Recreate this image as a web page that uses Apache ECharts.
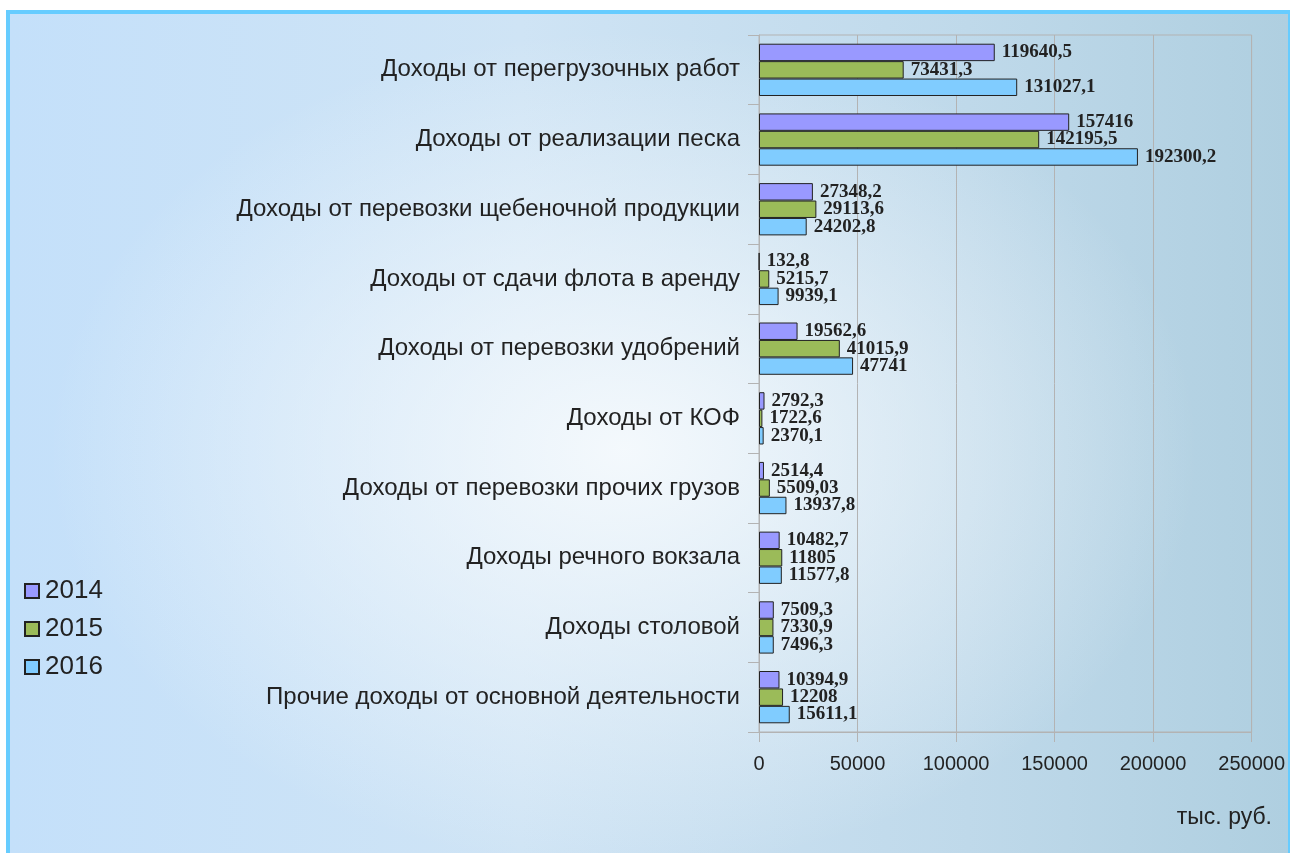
<!DOCTYPE html>
<html>
<head>
<meta charset="utf-8">
<script src="https://cdn.jsdelivr.net/npm/echarts@6/dist/echarts.min.js"></script>
<style>
	html, body { margin: 0; padding: 0; background: #fff; width: 1290px; height: 853px; overflow: hidden; }
	#main {
		position: absolute; left: 6px; top: 10px; width: 1284px; height: 843px;
		box-sizing: border-box;
		border-left: 4px solid #66ccff; border-top: 4px solid #66ccff; border-right: 2px solid #66ccff;
		background:
			radial-gradient(ellipse 45% 50% at 48% 52%, rgba(246,250,253,0.95) 0%, rgba(246,250,253,0) 100%),
			linear-gradient(to right, #c4e0fa 0%, #cfe4f5 40%, #bfd9ea 75%, #afcfe0 100%);
	}
</style>
</head>
<body>
<div id="main"></div>
<script>
var categories = ['Доходы от перегрузочных работ', 'Доходы от реализации песка',
	'Доходы от перевозки щебеночной продукции', 'Доходы от сдачи флота в аренду',
	'Доходы от перевозки удобрений', 'Доходы от КОФ', 'Доходы от перевозки прочих грузов',
	'Доходы речного вокзала', 'Доходы столовой', 'Прочие доходы от основной деятельности'];
var years = ['2014', '2015', '2016'];
var v2014 = [119640.5, 157416, 27348.2, 132.8, 19562.6, 2792.3, 2514.4, 10482.7, 7509.3, 10394.9];
var v2015 = [73431.3, 142195.5, 29113.6, 5215.7, 41015.9, 1722.6, 5509.03, 11805, 7330.9, 12208];
var v2016 = [131027.1, 192300.2, 24202.8, 9939.1, 47741, 2370.1, 13937.8, 11577.8, 7496.3, 15611.1];
var xTicks = [0, 50000, 100000, 150000, 200000, 250000];

var colors = ['#9999ff', '#9bbb59', '#80ccff'];
var gray = '#b3b3b3';

var chart = echarts.init(document.getElementById('main'));

function makeSeries(name, data, color) {
	return {
		name : name,
		type : 'bar',
		data : data,
		barGap : '0%',
		barCategoryGap : '25%',
		itemStyle : {
			color : color,
			borderColor : '#222',
			borderWidth : 1
		},
		label : {
			show : true,
			position : 'right',
			distance : 7,
			fontFamily : 'Liberation Serif',
			fontWeight : 'bold',
			fontSize : 19,
			color : '#222',
			formatter : function(p) {
				return String(p.value).replace('.', ',');
			}
		}
	};
}

var option = {
	animation : false,
	textStyle : { fontFamily : 'Liberation Sans' },
	legend : {
		orient : 'vertical',
		left : 9,
		top : 559,
		itemWidth : 14,
		itemHeight : 14,
		itemGap : 12,
		icon : 'rect',
		data : years,
		textStyle : { fontSize : 26, color : '#222', padding : [0, 0, 0, 1] }
	},
	grid : {
		left : 749,
		right : 35,
		top : 21,
		bottom : 121,
		show : true,
		borderColor : gray,
		borderWidth : 1
	},
	xAxis : {
		type : 'value',
		min : xTicks[0],
		max : xTicks[xTicks.length - 1],
		interval : xTicks[1] - xTicks[0],
		axisLine : { show : true, lineStyle : { color : gray } },
		axisTick : { show : true, length : 10, lineStyle : { color : gray } },
		splitLine : { show : true, lineStyle : { color : gray } },
		axisLabel : {
			fontSize : 20, color : '#222', margin : 22,
			formatter : function(v) { return String(v); }
		}
	},
	yAxis : {
		type : 'category',
		inverse : true,
		data : categories,
		axisLine : { show : true, lineStyle : { color : gray } },
		axisTick : { show : true, length : 11, lineStyle : { color : gray } },
		axisLabel : { fontSize : 24, color : '#222', margin : 19 }
	},
	graphic : [ {
		type : 'text',
		right : 16,
		top : 792,
		style : { text : 'тыс. руб.', font : '23px "Liberation Sans"', fill : '#222' }
	} ],
	series : [
		makeSeries(years[0], v2014, colors[0]),
		makeSeries(years[1], v2015, colors[1]),
		makeSeries(years[2], v2016, colors[2])
	]
};
chart.setOption(option);
</script>
</body>
</html>
